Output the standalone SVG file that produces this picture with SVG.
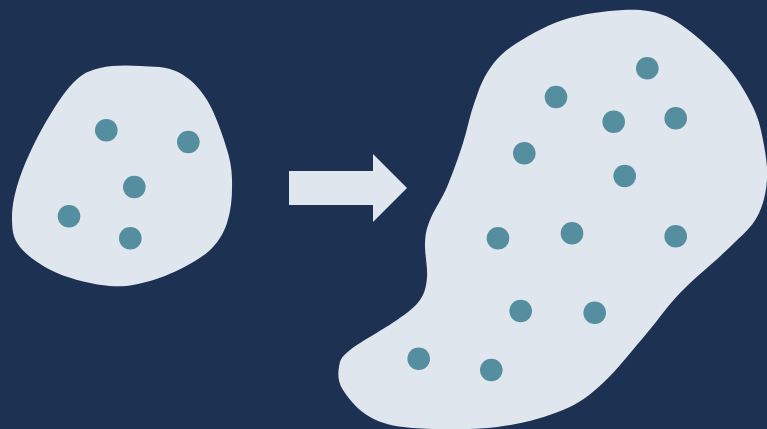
<svg xmlns="http://www.w3.org/2000/svg" width="767" height="429" viewBox="0 0 767 429">
<style>
.blob{fill:#dfe6ee}
.dot{fill:#558e9e}
</style>
<rect x="0" y="0" width="767" height="429" fill="#1d3152"/>
<g id="small-blob">
<path class="blob" d="M140,66 C153,66.7 166.8,66.3 178,72 C189.2,77.7 198.7,86.5 207,100 C215.3,113.5 223.8,138 228,153 C232.2,168 232.2,178.3 232,190 C231.8,201.7 230.2,213.5 227,223 C223.8,232.5 219.5,240 213,247 C206.5,254 198.5,259.3 188,265 C177.5,270.7 163,277.5 150,281 C137,284.5 125.5,287.3 110,286 C94.5,284.8 72,279.5 57,273 C42,266.5 27.5,256.3 20,247 C12.5,237.7 12,228.7 12,217 C12,205.3 14.8,192 20,177 C25.2,162 34.2,142.7 43,127 C51.8,111.3 63.5,92.8 73,83 C82.5,73.2 88.8,70.8 100,68 C111.2,65.2 126.7,65.2 140,66 Z"/>
<circle class="dot" cx="106.3" cy="130.3" r="11.3"/>
<circle class="dot" cx="188.3" cy="142" r="11.3"/>
<circle class="dot" cx="134.3" cy="187" r="11.3"/>
<circle class="dot" cx="69" cy="216.3" r="11.3"/>
<circle class="dot" cx="130.3" cy="238.3" r="11.3"/>
</g>
<g id="arrow">
<polygon class="blob" points="289,171 373,171 373,154 407,188 373,222 373,205 289,205"/>
</g>
<g id="large-blob">
<path class="blob" d="M623,10 C639.7,9.2 650.7,10.5 663,15 C675.3,19.5 685.8,27.8 697,37 C708.2,46.2 720.7,58.3 730,70 C739.3,81.7 747.5,95.3 753,107 C758.5,118.7 760.7,127.8 763,140 C765.3,152.2 768,167.2 767,180 C766,192.8 763.2,205.8 757,217 C750.8,228.2 742.8,234.3 730,247 C717.2,259.7 693.8,278.7 680,293 C666.2,307.3 659.8,318 647,333 C634.2,348 617,370.2 603,383 C589,395.8 580.7,402.7 563,410 C545.3,417.3 522,424 497,427 C472,430 434.2,429.7 413,428 C391.8,426.3 381.7,423.3 370,417 C358.3,410.7 348.2,398.3 343,390 C337.8,381.7 337.8,373.7 339,367 C340.2,360.3 340.3,357.8 350,350 C359.7,342.2 385.3,328.3 397,320 C408.7,311.7 415,307.2 420,300 C425,292.8 426.2,286.5 427,277 C427.8,267.5 424.5,252.5 425,243 C425.5,233.5 426.3,229.3 430,220 C433.7,210.7 441.5,199.8 447,187 C452.5,174.2 458.7,156.3 463,143 C467.3,129.7 469,118.7 473,107 C477,95.3 480.7,83 487,73 C493.3,63 498.3,55.8 511,47 C523.7,38.2 544.3,26.2 563,20 C581.7,13.8 606.3,10.8 623,10 Z"/>
<circle class="dot" cx="647.3" cy="68.3" r="11.3"/>
<circle class="dot" cx="556" cy="97" r="11.3"/>
<circle class="dot" cx="613.7" cy="121.7" r="11.3"/>
<circle class="dot" cx="675.7" cy="118.3" r="11.3"/>
<circle class="dot" cx="524.3" cy="153.3" r="11.3"/>
<circle class="dot" cx="624.7" cy="176" r="11.3"/>
<circle class="dot" cx="498" cy="238.3" r="11.3"/>
<circle class="dot" cx="572" cy="233.3" r="11.3"/>
<circle class="dot" cx="675.7" cy="236.3" r="11.3"/>
<circle class="dot" cx="520.7" cy="311" r="11.3"/>
<circle class="dot" cx="594.7" cy="312.7" r="11.3"/>
<circle class="dot" cx="418.7" cy="358.7" r="11.3"/>
<circle class="dot" cx="491.3" cy="370" r="11.3"/>
</g>
</svg>
